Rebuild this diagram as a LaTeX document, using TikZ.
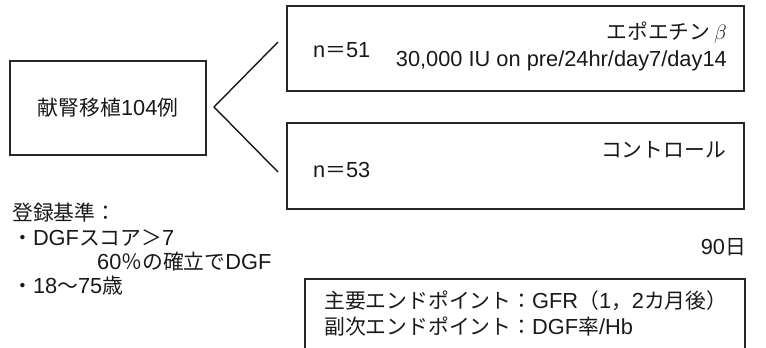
\documentclass[tikz,border=0pt]{standalone}
\usepackage{fontspec}
\setmainfont{Liberation Sans}[Scale=1.09]
\newfontfamily\cjk{Noto Sans CJK JP}[Scale=1.04]
\begin{document}
\begin{tikzpicture}[x=1pt,y=-1pt,
  box/.style={draw=black!85,line width=1.3pt},
  txt/.style={inner sep=0pt,font=\fontsize{20}{24}\selectfont,text=black!90},
  conn/.style={draw=black!90,line width=1.4pt}]
\useasboundingbox (0,0) rectangle (766,348);
\clip (0,0) rectangle (766,348);
% left box
\draw[box] (10,61) rectangle (206,155);
\node[txt] (src) at (108,108) {{\cjk 献腎移植}104{\cjk 例}};
\coordinate (fork) at (214,107);
\coordinate (armA) at (278,42);
\coordinate (armB) at (278,172);
\draw[conn] (armA) -- (fork) -- (armB);
% top box
\draw[box] (287,6) rectangle (744,91);
\node[txt,anchor=west] (na) at (313,50) {n{\cjk ＝}51};
\node[txt,anchor=east] (epo) at (727,33) {{\cjk エポエチン}\,{\fontsize{22}{24}\selectfont$\beta$}};
\node[txt,anchor=east] (dose) at (727,61) {30,000 IU on pre/24hr/day7/day14};
% second box
\draw[box] (287,123) rectangle (744,209);
\node[txt,anchor=west] (nb) at (313,170) {n{\cjk ＝}53};
\node[txt,anchor=east] (ctl) at (726,150) {\cjk コントロール};
% criteria
\node[txt,anchor=west] (c0) at (12,213) {\cjk 登録基準：};
\node[txt,anchor=west] (c1) at (12,238) {{\cjk ・}DGF{\cjk スコア＞}7};
\node[txt,anchor=west] (c2) at (97,262) {60{\cjk ％の確立で}DGF};
\node[txt,anchor=west] (c3) at (12,286) {{\cjk ・}18{\cjk ～}75{\cjk 歳}};
\node[txt,anchor=east] (d90) at (746,247) {90{\cjk 日}};
% endpoints
\draw[box] (305,279) rectangle (745,360);
\node[txt,anchor=west] (e1) at (324,301) {{\cjk 主要エンドポイント：}GFR{\cjk （}1{\cjk ，}2{\cjk カ月後）}};
\node[txt,anchor=west] (e2) at (324,327) {{\cjk 副次エンドポイント：}DGF{\cjk 率}/Hb};
\end{tikzpicture}
\end{document}
